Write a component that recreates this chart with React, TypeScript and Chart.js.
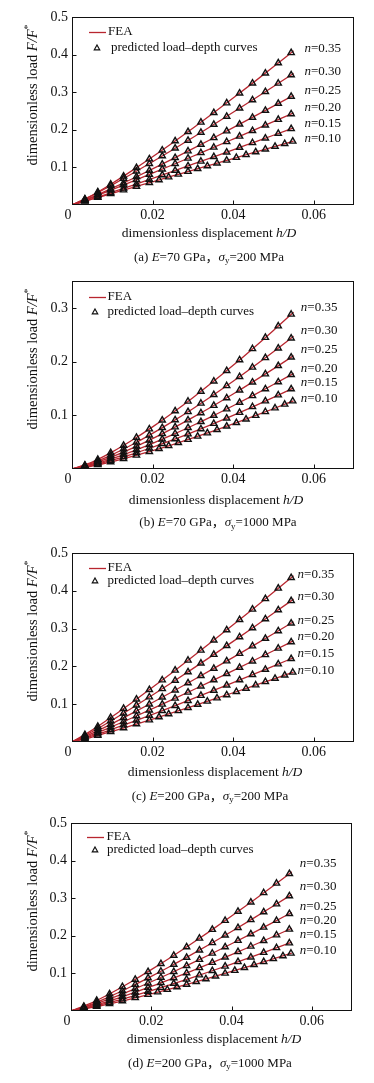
import React, { useEffect, useRef } from 'react';
import { Chart, registerables } from 'chart.js';

Chart.register(...registerables);

// ---------- shared data ----------
const N_LABELS = ['0.35', '0.30', '0.25', '0.20', '0.15', '0.10'];
const X_TICKS = [0, 0.02, 0.04, 0.06];
const FEA_X = [0, 0.005, 0.01, 0.015, 0.02, 0.025, 0.03, 0.035, 0.04, 0.045, 0.05, 0.055];
const PRED_X = [0.0032, 0.0064, 0.0096, 0.0128, 0.016, 0.0192, 0.0224, 0.0256, 0.0288, 0.032, 0.0352, 0.0384, 0.0416, 0.0448, 0.048, 0.0512, 0.0544];
const PRED_X_N010 = [0.0032, 0.0064, 0.0096, 0.0128, 0.016, 0.0192, 0.0216, 0.024, 0.0264, 0.0288, 0.0312, 0.0336, 0.036, 0.0384, 0.0408, 0.0432, 0.0456, 0.048, 0.0504, 0.0528, 0.0548];

// ---------- panel (a) E=70 GPa, sy=200 MPa ----------
const FEA_A_035 = [0, 0.0260, 0.0577, 0.0920, 0.1281, 0.1656, 0.2042, 0.2438, 0.2843, 0.3255, 0.3674, 0.41];
const FEA_A_030 = [0, 0.0250, 0.0537, 0.0838, 0.1150, 0.1470, 0.1797, 0.2129, 0.2465, 0.2807, 0.3152, 0.35];
const FEA_A_025 = [0, 0.0209, 0.0448, 0.0699, 0.0960, 0.1227, 0.1499, 0.1776, 0.2057, 0.2342, 0.2629, 0.292];
const FEA_A_020 = [0, 0.0197, 0.0409, 0.0626, 0.0847, 0.1071, 0.1297, 0.1524, 0.1754, 0.1985, 0.2217, 0.245];
const FEA_A_015 = [0, 0.0165, 0.0342, 0.0524, 0.0709, 0.0896, 0.1085, 0.1275, 0.1467, 0.1661, 0.1855, 0.205];
const FEA_A_010 = [0, 0.0155, 0.0309, 0.0464, 0.0618, 0.0773, 0.0927, 0.1082, 0.1236, 0.1391, 0.1545, 0.17];
const PRED_A_035 = [0.0156, 0.0346, 0.0551, 0.0767, 0.0991, 0.1222, 0.1459, 0.1702, 0.1948, 0.2199, 0.2454, 0.2712, 0.2974, 0.3239, 0.3506, 0.3776, 0.4048];
const PRED_A_030 = [0.0153, 0.0328, 0.0513, 0.0704, 0.0900, 0.1100, 0.1303, 0.1509, 0.1718, 0.1929, 0.2142, 0.2357, 0.2575, 0.2793, 0.3014, 0.3235, 0.3458];
const PRED_A_025 = [0.0128, 0.0274, 0.0428, 0.0588, 0.0751, 0.0917, 0.1087, 0.1259, 0.1433, 0.1609, 0.1787, 0.1967, 0.2148, 0.2330, 0.2514, 0.2699, 0.2885];
const PRED_A_020 = [0.0124, 0.0256, 0.0392, 0.0530, 0.0670, 0.0811, 0.0954, 0.1098, 0.1242, 0.1387, 0.1533, 0.1680, 0.1827, 0.1975, 0.2124, 0.2273, 0.2422];
const PRED_A_015 = [0.0104, 0.0214, 0.0328, 0.0444, 0.0561, 0.0679, 0.0798, 0.0918, 0.1039, 0.1161, 0.1283, 0.1406, 0.1529, 0.1653, 0.1777, 0.1902, 0.2026];
const PRED_A_010 = [0.0099, 0.0198, 0.0297, 0.0396, 0.0495, 0.0593, 0.0668, 0.0742, 0.0816, 0.0890, 0.0964, 0.1039, 0.1113, 0.1187, 0.1261, 0.1335, 0.1409, 0.1484, 0.1558, 0.1632, 0.1694];
const LABEL_Y_A = [0.417, 0.356, 0.303, 0.260, 0.217, 0.177];

// ---------- panel (b) E=70 GPa, sy=1000 MPa ----------
const FEA_B_035 = [0, 0.0129, 0.0318, 0.0539, 0.0784, 0.1048, 0.1328, 0.1623, 0.1930, 0.2250, 0.2580, 0.292];
const FEA_B_030 = [0, 0.0109, 0.0269, 0.0456, 0.0663, 0.0886, 0.1123, 0.1373, 0.1633, 0.1903, 0.2182, 0.247];
const FEA_B_025 = [0, 0.0093, 0.0230, 0.0390, 0.0567, 0.0757, 0.0960, 0.1173, 0.1395, 0.1626, 0.1864, 0.211];
const FEA_B_020 = [0, 0.0079, 0.0194, 0.0329, 0.0478, 0.0639, 0.0810, 0.0989, 0.1177, 0.1371, 0.1573, 0.178];
const FEA_B_015 = [0, 0.0067, 0.0165, 0.0279, 0.0405, 0.0542, 0.0687, 0.0839, 0.0998, 0.1163, 0.1334, 0.151];
const FEA_B_010 = [0, 0.0056, 0.0138, 0.0235, 0.0341, 0.0456, 0.0578, 0.0706, 0.0839, 0.0978, 0.1122, 0.127];
const PRED_B_035 = [0.0072, 0.0178, 0.0302, 0.0439, 0.0587, 0.0743, 0.0908, 0.1080, 0.1259, 0.1444, 0.1635, 0.1830, 0.2031, 0.2237, 0.2447, 0.2660, 0.2879];
const PRED_B_030 = [0.0061, 0.0151, 0.0255, 0.0371, 0.0496, 0.0629, 0.0768, 0.0914, 0.1065, 0.1222, 0.1383, 0.1548, 0.1718, 0.1892, 0.2070, 0.2250, 0.2435];
const PRED_B_025 = [0.0052, 0.0129, 0.0218, 0.0317, 0.0424, 0.0537, 0.0656, 0.0781, 0.0910, 0.1044, 0.1181, 0.1323, 0.1468, 0.1616, 0.1768, 0.1922, 0.2080];
const PRED_B_020 = [0.0044, 0.0109, 0.0184, 0.0268, 0.0358, 0.0453, 0.0554, 0.0659, 0.0768, 0.0880, 0.0996, 0.1116, 0.1238, 0.1363, 0.1491, 0.1622, 0.1755];
const PRED_B_015 = [0.0037, 0.0092, 0.0156, 0.0227, 0.0303, 0.0384, 0.0470, 0.0559, 0.0651, 0.0747, 0.0845, 0.0946, 0.1050, 0.1157, 0.1265, 0.1376, 0.1489];
const PRED_B_010 = [0.0031, 0.0077, 0.0131, 0.0191, 0.0255, 0.0323, 0.0377, 0.0432, 0.0489, 0.0548, 0.0608, 0.0669, 0.0732, 0.0796, 0.0861, 0.0928, 0.0995, 0.1064, 0.1134, 0.1204, 0.1264];
const LABEL_Y_B = [0.300, 0.257, 0.222, 0.187, 0.160, 0.132];

// ---------- panel (c) E=200 GPa, sy=200 MPa ----------
const FEA_C_035 = [0, 0.0315, 0.0675, 0.1054, 0.1446, 0.1848, 0.2259, 0.2677, 0.3099, 0.3528, 0.3962, 0.44];
const FEA_C_030 = [0, 0.0270, 0.0579, 0.0905, 0.1242, 0.1588, 0.1941, 0.2299, 0.2663, 0.3031, 0.3404, 0.378];
const FEA_C_025 = [0, 0.0227, 0.0487, 0.0762, 0.1045, 0.1336, 0.1633, 0.1934, 0.2240, 0.2550, 0.2864, 0.318];
const FEA_C_020 = [0, 0.0192, 0.0411, 0.0642, 0.0881, 0.1126, 0.1376, 0.1630, 0.1888, 0.2149, 0.2413, 0.268];
const FEA_C_015 = [0, 0.0159, 0.0342, 0.0534, 0.0733, 0.0937, 0.1145, 0.1357, 0.1571, 0.1788, 0.2008, 0.223];
const FEA_C_010 = [0, 0.0132, 0.0284, 0.0443, 0.0608, 0.0777, 0.0950, 0.1125, 0.1303, 0.1484, 0.1666, 0.185];
const PRED_C_035 = [0.0193, 0.0413, 0.0645, 0.0885, 0.1131, 0.1382, 0.1638, 0.1897, 0.2160, 0.2425, 0.2693, 0.2963, 0.3237, 0.3511, 0.3788, 0.4066, 0.4347];
const PRED_C_030 = [0.0166, 0.0355, 0.0554, 0.0761, 0.0972, 0.1188, 0.1407, 0.1630, 0.1855, 0.2083, 0.2313, 0.2546, 0.2781, 0.3016, 0.3255, 0.3493, 0.3735];
const PRED_C_025 = [0.0139, 0.0298, 0.0466, 0.0640, 0.0818, 0.0999, 0.1184, 0.1371, 0.1561, 0.1752, 0.1946, 0.2142, 0.2339, 0.2538, 0.2738, 0.2939, 0.3142];
const PRED_C_020 = [0.0117, 0.0251, 0.0393, 0.0539, 0.0689, 0.0842, 0.0998, 0.1155, 0.1315, 0.1477, 0.1640, 0.1805, 0.1971, 0.2139, 0.2307, 0.2477, 0.2648];
const PRED_C_015 = [0.0098, 0.0209, 0.0327, 0.0449, 0.0573, 0.0701, 0.0830, 0.0961, 0.1094, 0.1229, 0.1365, 0.1502, 0.1640, 0.1780, 0.1920, 0.2061, 0.2203];
const PRED_C_010 = [0.0081, 0.0174, 0.0271, 0.0372, 0.0476, 0.0581, 0.0662, 0.0743, 0.0825, 0.0908, 0.0992, 0.1076, 0.1161, 0.1246, 0.1332, 0.1418, 0.1505, 0.1593, 0.1681, 0.1769, 0.1843];
const LABEL_Y_C = [0.444, 0.384, 0.321, 0.279, 0.235, 0.188];

// ---------- panel (d) E=200 GPa, sy=1000 MPa ----------
const FEA_D_035 = [0, 0.0208, 0.0478, 0.0778, 0.1099, 0.1436, 0.1788, 0.2151, 0.2525, 0.2908, 0.3300, 0.37];
const FEA_D_030 = [0, 0.0175, 0.0401, 0.0652, 0.0921, 0.1203, 0.1498, 0.1802, 0.2115, 0.2437, 0.2765, 0.31];
const FEA_D_025 = [0, 0.0148, 0.0339, 0.0551, 0.0778, 0.1017, 0.1266, 0.1523, 0.1788, 0.2059, 0.2337, 0.262];
const FEA_D_020 = [0, 0.0124, 0.0284, 0.0463, 0.0653, 0.0854, 0.1063, 0.1279, 0.1501, 0.1729, 0.1962, 0.22];
const FEA_D_015 = [0, 0.0103, 0.0237, 0.0385, 0.0544, 0.0710, 0.0884, 0.1064, 0.1249, 0.1438, 0.1632, 0.183];
const FEA_D_010 = [0, 0.0087, 0.0199, 0.0324, 0.0457, 0.0598, 0.0744, 0.0895, 0.1051, 0.1210, 0.1374, 0.154];
const PRED_D_035 = [0.0122, 0.0280, 0.0455, 0.0643, 0.0841, 0.1046, 0.1259, 0.1478, 0.1702, 0.1932, 0.2166, 0.2404, 0.2647, 0.2893, 0.3142, 0.3395, 0.3652];
const PRED_D_030 = [0.0102, 0.0235, 0.0382, 0.0539, 0.0704, 0.0877, 0.1055, 0.1238, 0.1426, 0.1619, 0.1814, 0.2014, 0.2217, 0.2424, 0.2633, 0.2845, 0.3059];
const PRED_D_025 = [0.0086, 0.0198, 0.0323, 0.0456, 0.0595, 0.0741, 0.0892, 0.1046, 0.1205, 0.1368, 0.1533, 0.1702, 0.1874, 0.2048, 0.2225, 0.2404, 0.2586];
const PRED_D_020 = [0.0072, 0.0167, 0.0271, 0.0383, 0.0500, 0.0622, 0.0749, 0.0879, 0.1012, 0.1149, 0.1288, 0.1429, 0.1574, 0.1720, 0.1868, 0.2019, 0.2171];
const PRED_D_015 = [0.0060, 0.0139, 0.0225, 0.0318, 0.0416, 0.0518, 0.0623, 0.0731, 0.0842, 0.0955, 0.1071, 0.1189, 0.1309, 0.1431, 0.1554, 0.1679, 0.1806];
const PRED_D_010 = [0.0051, 0.0117, 0.0190, 0.0268, 0.0350, 0.0436, 0.0502, 0.0569, 0.0638, 0.0708, 0.0780, 0.0852, 0.0926, 0.1001, 0.1076, 0.1153, 0.1230, 0.1308, 0.1387, 0.1466, 0.1533];
const LABEL_Y_D = [0.391, 0.331, 0.277, 0.240, 0.202, 0.160];

// ---------- styling / layout ----------
const FONT = '"Liberation Serif", "Times New Roman", "Noto Sans CJK SC", serif';
const RED = '#b8262f';
const INK = '#111111';

type Part = { t: string; i?: boolean; sup?: boolean; sub?: boolean };

const captionParts = (tag: string, e: string, s: string): Part[] => [
  { t: `(${tag}) ` }, { t: 'E', i: true }, { t: `=${e} GPa，` },
  { t: 'σ', i: true }, { t: 'y', sub: true }, { t: `=${s} MPa` },
];

// absTop/absBottom: plot frame in page coordinates; canvas spans canvasTop..canvasTop+height
const PANELS = [
  {
    canvasTop: 0, height: 272, left: 72, right: 354, absTop: 17, absBottom: 205, yMax: 0.5,
    yTicks: [0.1, 0.2, 0.3, 0.4, 0.5],
    fea: [FEA_A_035, FEA_A_030, FEA_A_025, FEA_A_020, FEA_A_015, FEA_A_010],
    pred: [PRED_A_035, PRED_A_030, PRED_A_025, PRED_A_020, PRED_A_015, PRED_A_010],
    labelX: 0.0577, labelY: LABEL_Y_A,
    caption: captionParts('a', '70', '200'),
    xTitleX: 209, xTitleDy: 28, capX: 209, capDy: 52.5,
    leg: { l0: 89, l1: 106, feaX: 108, triX: 97, predX: 111, y1: 15, y2: 31 },
  },
  {
    canvasTop: 262, height: 278, left: 72, right: 354, absTop: 281, absBottom: 469, yMax: 0.35,
    yTicks: [0.1, 0.2, 0.3],
    fea: [FEA_B_035, FEA_B_030, FEA_B_025, FEA_B_020, FEA_B_015, FEA_B_010],
    pred: [PRED_B_035, PRED_B_030, PRED_B_025, PRED_B_020, PRED_B_015, PRED_B_010],
    labelX: 0.0568, labelY: LABEL_Y_B,
    caption: captionParts('b', '70', '1000'),
    xTitleX: 216, xTitleDy: 31, capX: 218, capDy: 54,
    leg: { l0: 89, l1: 106, feaX: 107.5, triX: 95, predX: 107.5, y1: 16, y2: 31 },
  },
  {
    canvasTop: 532, height: 274, left: 72, right: 354, absTop: 553, absBottom: 742, yMax: 0.5,
    yTicks: [0.1, 0.2, 0.3, 0.4, 0.5],
    fea: [FEA_C_035, FEA_C_030, FEA_C_025, FEA_C_020, FEA_C_015, FEA_C_010],
    pred: [PRED_C_035, PRED_C_030, PRED_C_025, PRED_C_020, PRED_C_015, PRED_C_010],
    labelX: 0.056, labelY: LABEL_Y_C,
    caption: captionParts('c', '200', '200'),
    xTitleX: 215, xTitleDy: 30, capX: 210, capDy: 54.5,
    leg: { l0: 89, l1: 106, feaX: 107.5, triX: 95, predX: 107.5, y1: 15, y2: 28 },
  },
  {
    canvasTop: 806, height: 277, left: 71, right: 352, absTop: 823, absBottom: 1011, yMax: 0.5,
    yTicks: [0.1, 0.2, 0.3, 0.4, 0.5],
    fea: [FEA_D_035, FEA_D_030, FEA_D_025, FEA_D_020, FEA_D_015, FEA_D_010],
    pred: [PRED_D_035, PRED_D_030, PRED_D_025, PRED_D_020, PRED_D_015, PRED_D_010],
    labelX: 0.057, labelY: LABEL_Y_D,
    caption: captionParts('d', '200', '1000'),
    xTitleX: 214, xTitleDy: 28, capX: 210, capDy: 52.5,
    leg: { l0: 87, l1: 104, feaX: 106.5, triX: 95, predX: 107, y1: 14, y2: 27 },
  },
];

function partFont(p: Part, size: number) {
  const s = p.sup || p.sub ? size * 0.68 : size;
  return `${p.i ? 'italic ' : ''}${s}px ${FONT}`;
}

function drawRich(ctx: CanvasRenderingContext2D, parts: Part[], x: number, y: number, size: number, align: 'left' | 'center') {
  ctx.textBaseline = 'middle';
  ctx.textAlign = 'left';
  const widths = parts.map((p) => { ctx.font = partFont(p, size); return ctx.measureText(p.t).width; });
  const total = widths.reduce((a, b) => a + b, 0);
  let cx = align === 'center' ? x - total / 2 : x;
  parts.forEach((p, k) => {
    ctx.font = partFont(p, size);
    const dy = p.sup ? -size * 0.32 : p.sub ? size * 0.28 : 0;
    ctx.fillText(p.t, cx, y + dy);
    cx += widths[k];
  });
}

function PanelChart({ cfg }: { cfg: typeof PANELS[number] }) {
  const ref = useRef<HTMLCanvasElement | null>(null);
  useEffect(() => {
    if (!ref.current) return;
    const top = cfg.absTop - cfg.canvasTop;
    const bottom = cfg.absBottom - cfg.canvasTop;
    const datasets: any[] = [];
    cfg.pred.forEach((ys, k) => {
      const xsArr = k === 5 ? PRED_X_N010 : PRED_X;
      datasets.push({
        data: xsArr.map((x, i) => ({ x, y: ys[i] })),
        showLine: false, pointStyle: 'triangle', pointRadius: 3.6, pointBorderWidth: 1.4,
        pointBorderColor: '#111', pointBackgroundColor: 'rgba(255,255,255,0)', order: 0,
      });
    });
    cfg.fea.forEach((ys) => {
      datasets.push({
        data: FEA_X.map((x, i) => ({ x, y: ys[i] })),
        showLine: true, borderColor: RED, borderWidth: 1.3, pointRadius: 0,
        cubicInterpolationMode: 'monotone', fill: false, order: 1,
      });
    });

    const decor = {
      id: 'decor',
      afterDraw(chart: any) {
        const ctx: CanvasRenderingContext2D = chart.ctx;
        const xs = chart.scales.x;
        const ys = chart.scales.y;
        const { left, right, top: ct, bottom: cb } = chart.chartArea;
        ctx.save();
        ctx.fillStyle = INK;
        ctx.strokeStyle = '#111';
        ctx.lineWidth = 1;
        const L = Math.round(left) + 0.5, R = Math.round(right) - 0.5;
        const T = Math.round(ct) + 0.5, B = Math.round(cb) - 0.5;
        ctx.strokeRect(L, T, R - L, B - T);
        // inward ticks
        ctx.beginPath();
        X_TICKS.filter((v) => v > 0).forEach((v) => {
          const px = Math.round(xs.getPixelForValue(v)) + 0.5;
          ctx.moveTo(px, B); ctx.lineTo(px, B - 4);
        });
        cfg.yTicks.filter((v) => v < cfg.yMax).forEach((v) => {
          const py = Math.round(ys.getPixelForValue(v)) + 0.5;
          ctx.moveTo(L, py); ctx.lineTo(L + 4, py);
        });
        ctx.stroke();
        // tick labels
        ctx.font = `14px ${FONT}`;
        ctx.textAlign = 'center';
        ctx.textBaseline = 'alphabetic';
        X_TICKS.forEach((v) => {
          const px = v === 0 ? left - 4 : xs.getPixelForValue(v);
          ctx.fillText(v === 0 ? '0' : v.toFixed(2), px, cb + 13.5);
        });
        ctx.textAlign = 'right';
        ctx.textBaseline = 'middle';
        cfg.yTicks.forEach((v) => {
          ctx.fillText(v.toFixed(1), left - 4, ys.getPixelForValue(v));
        });
        // axis titles
        drawRich(ctx, [{ t: 'dimensionless displacement ' }, { t: 'h/D', i: true }], cfg.xTitleX, cb + cfg.xTitleDy, 13.5, 'center');
        ctx.save();
        ctx.translate(33, ct + 78);
        ctx.rotate(-Math.PI / 2);
        drawRich(ctx, [{ t: 'dimensionless load ' }, { t: 'F/F', i: true }, { t: '*', sup: true }], 0, 0, 14.5, 'center');
        ctx.restore();
        // caption
        drawRich(ctx, cfg.caption, cfg.capX, cb + cfg.capDy, 13, 'center');
        // legend
        const lg = cfg.leg;
        ctx.strokeStyle = RED;
        ctx.lineWidth = 1.3;
        ctx.beginPath();
        ctx.moveTo(lg.l0, Math.round(ct + lg.y1) + 0.5);
        ctx.lineTo(lg.l1, Math.round(ct + lg.y1) + 0.5);
        ctx.stroke();
        drawRich(ctx, [{ t: 'FEA' }], lg.feaX, ct + lg.y1, 13, 'left');
        ctx.strokeStyle = '#111';
        ctx.lineWidth = 1.2;
        const ty = ct + lg.y2;
        ctx.beginPath();
        ctx.moveTo(lg.triX, ty - 3); ctx.lineTo(lg.triX + 2.7, ty + 1.8); ctx.lineTo(lg.triX - 2.7, ty + 1.8); ctx.closePath();
        ctx.stroke();
        drawRich(ctx, [{ t: 'predicted load–depth curves' }], lg.predX, ty, 13, 'left');
        // n labels
        N_LABELS.forEach((n, k) => {
          drawRich(ctx, [{ t: 'n', i: true }, { t: `=${n}` }], xs.getPixelForValue(cfg.labelX), ys.getPixelForValue(cfg.labelY[k]), 13, 'left');
        });
        ctx.restore();
      },
    };

    const chart = new Chart(ref.current, {
      type: 'scatter',
      data: { datasets },
      options: {
        animation: false,
        responsive: false,
        devicePixelRatio: 1,
        layout: { padding: { left: cfg.left, right: 374 - cfg.right, top, bottom: cfg.height - bottom } },
        scales: {
          x: { type: 'linear', min: 0, max: 0.07, display: false },
          y: { type: 'linear', min: 0, max: cfg.yMax, display: false },
        },
        plugins: { legend: { display: false }, tooltip: { enabled: false } },
      } as any,
      plugins: [decor],
    });
    return () => chart.destroy();
  }, [cfg]);
  return (
    <canvas
      ref={ref}
      width={374}
      height={cfg.height}
      style={{ position: 'absolute', left: 0, top: cfg.canvasTop, width: 374, height: cfg.height, display: 'block' }}
    />
  );
}

export default function App() {
  return (
    <div style={{ position: 'absolute', left: 0, top: 0, width: 374, height: 1083, background: '#fff' }}>
      {PANELS.map((cfg, i) => (
        <PanelChart key={i} cfg={cfg} />
      ))}
    </div>
  );
}
